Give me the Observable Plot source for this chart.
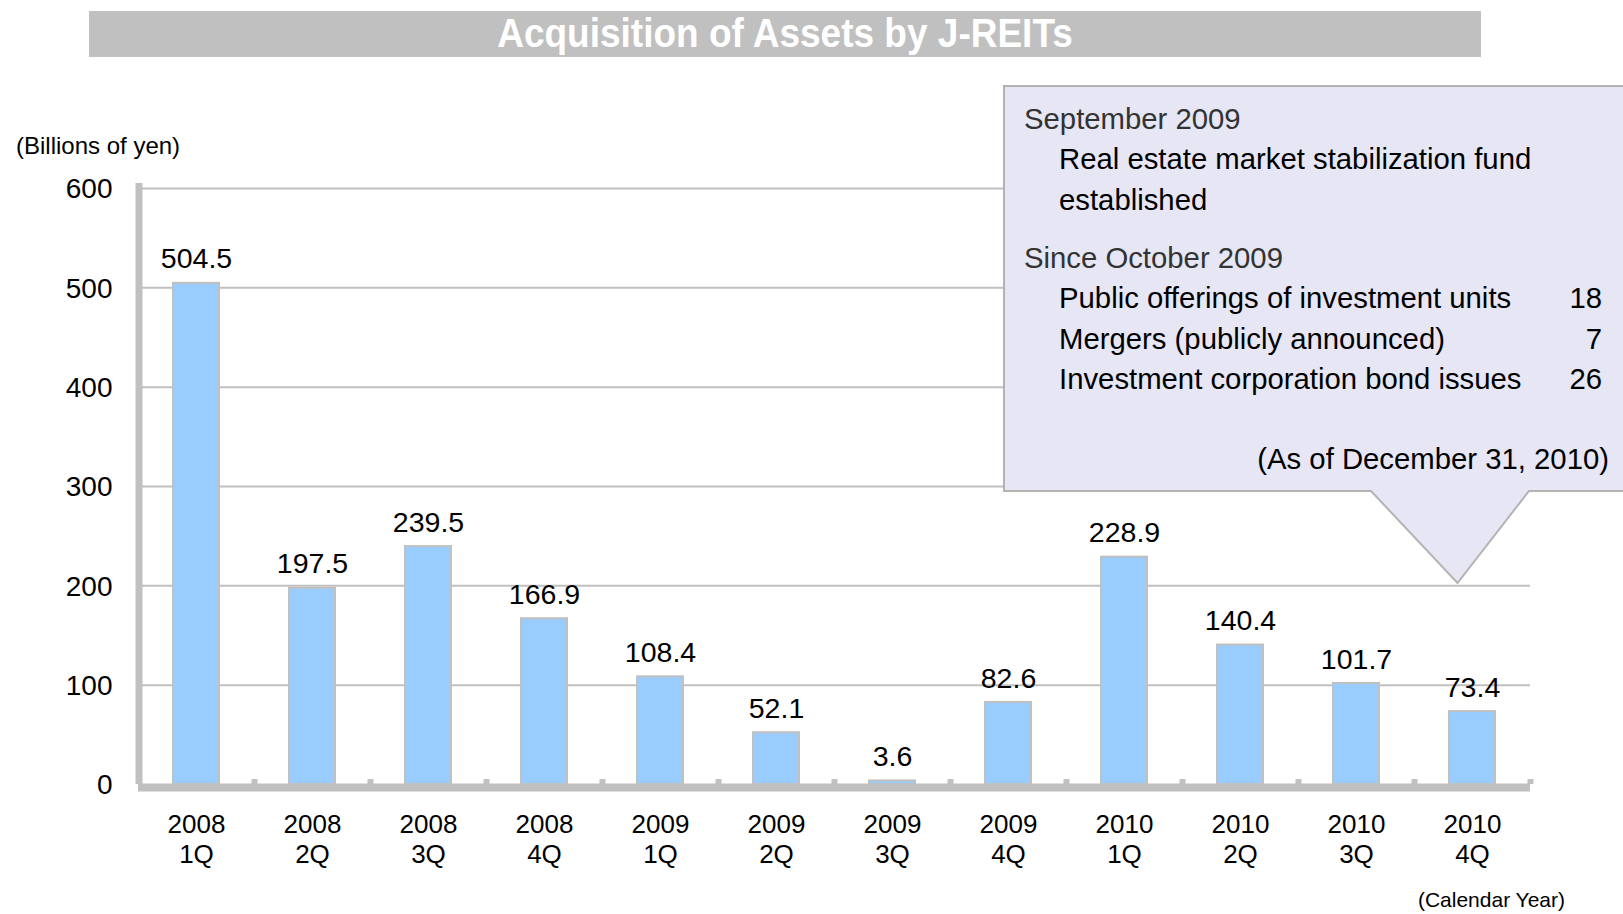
<!DOCTYPE html>
<html>
<head>
<meta charset="utf-8">
<script src="https://cdn.jsdelivr.net/npm/d3@7"></script>
<script src="https://cdn.jsdelivr.net/npm/@observablehq/plot@0.6"></script>
<style>
  html, body { margin: 0; padding: 0; background: #fff; }
  body { width: 1623px; height: 914px; position: relative; overflow: hidden;
         font-family: "Liberation Sans", Arial, sans-serif; }
  #chart { position: absolute; left: 0; top: 0; }
  #title { position: absolute; left: 89px; top: 11px; width: 1392px; height: 46px;
           background: #c0c0c0; color: #fff; font-weight: bold; font-size: 37px;
           line-height: 46px; text-align: center; }
  #title span { display: inline-block; transform: scale(1, 1.12); }
  #overlay { position: absolute; left: 0; top: 0; pointer-events: none; }
  #overlay text { font-family: "Liberation Sans", Arial, sans-serif; }
</style>
</head>
<body>
<div id="chart"></div>
<div id="title"><span>Acquisition of Assets by J-REITs</span></div>
<svg id="overlay" width="1623" height="914">
  <text x="16" y="148" font-size="24" dominant-baseline="middle" fill="#000">(Billions of yen)</text>
  <text x="1565" y="901" font-size="21" dominant-baseline="middle" text-anchor="end" fill="#000">(Calendar Year)</text>
  <path d="M1004,86 H1630 V491 H1529 L1457.5,583 L1371,491 H1004 Z" fill="#e6e6f5" stroke="#b3b3b3" stroke-width="2"/>
  <g font-size="29.3" dominant-baseline="middle">
    <text x="1024" y="121" fill="#333">September 2009</text>
    <text x="1059" y="161" fill="#000">Real estate market stabilization fund</text>
    <text x="1059" y="202" fill="#000">established</text>
    <text x="1024" y="260" fill="#333">Since October 2009</text>
    <text x="1059" y="300" fill="#000">Public offerings of investment units</text>
    <text x="1059" y="341" fill="#000">Mergers (publicly announced)</text>
    <text x="1059" y="381" fill="#000">Investment corporation bond issues</text>
    <text x="1602" y="300" fill="#000" text-anchor="end">18</text>
    <text x="1602" y="341" fill="#000" text-anchor="end">7</text>
    <text x="1602" y="381" fill="#000" text-anchor="end">26</text>
    <text x="1609" y="461" fill="#000" text-anchor="end">(As of December 31, 2010)</text>
  </g>
</svg>
<script>
const categories = ["2008\n1Q", "2008\n2Q", "2008\n3Q", "2008\n4Q",
                    "2009\n1Q", "2009\n2Q", "2009\n3Q", "2009\n4Q",
                    "2010\n1Q", "2010\n2Q", "2010\n3Q", "2010\n4Q"];
const values = [504.5, 197.5, 239.5, 166.9, 108.4, 52.1, 3.6, 82.6, 228.9, 140.4, 101.7, 73.4];
const yTicks = [0, 100, 200, 300, 400, 500, 600];

const data = categories.map((c, i) => ({label: c, value: values[i]}));

const W = 1623, H = 914;
const mL = 138, mR = 93, mT = 188, mB = 130;
const step = (W - mL - mR) / categories.length;
const axisGray = "#c0c0c0";
const fmt = d3.format(".1f");

const chart = Plot.plot({
  width: W, height: H,
  marginLeft: mL, marginRight: mR, marginTop: mT, marginBottom: mB,
  style: {fontFamily: "'Liberation Sans', Arial, sans-serif", color: "#000", background: "transparent", overflow: "visible"},
  x: {domain: categories, paddingInner: 0.6, paddingOuter: 0.3, label: null, axis: null},
  y: {domain: [0, 600], label: null, axis: null},
  marks: [
    Plot.ruleY(yTicks, {y: d => d, stroke: axisGray, strokeWidth: 2}),
    Plot.barY(data, {x: "label", y: "value", fill: "#99ccff", stroke: axisGray, strokeWidth: 2}),
    Plot.ruleX([categories[0]], {x: d => d, dx: -step / 2 + 0.5, y1: 0, y2: 605, stroke: axisGray, strokeWidth: 7}),
    Plot.ruleY([0], {y: d => d, dy: 3.5, stroke: axisGray, strokeWidth: 7}),
    Plot.ruleX(categories, {x: d => d, dx: step / 2, y1: 0, y2: 5, stroke: axisGray, strokeWidth: 6}),
    Plot.text(data, {x: "label", y: "value", text: d => fmt(d.value), dy: -24, fontSize: 28.5, fill: "#000"}),
    Plot.axisX({tickSize: 0, tickPadding: 28, fontSize: 26, lineHeight: 1.13, fill: "#000", label: null}),
    Plot.axisY({ticks: yTicks, tickSize: 0, tickPadding: 26, dy: 1, fontSize: 28, fill: "#000", label: null})
  ]
});
document.getElementById("chart").appendChild(chart);
</script>
</body>
</html>
